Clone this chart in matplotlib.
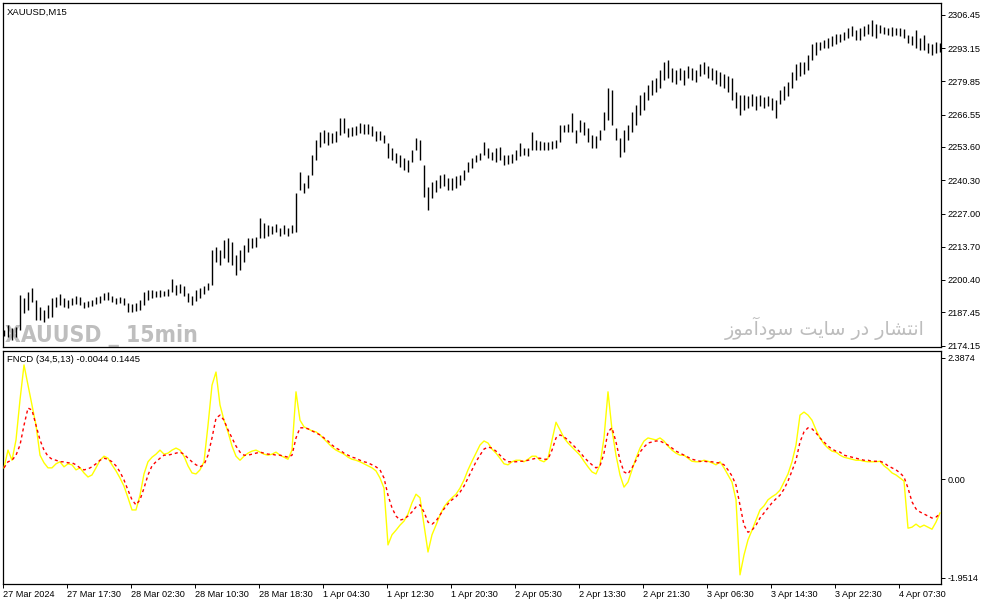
"""XAUUSD M15 chart with the FNCD sub-window, MT4 style."""
import matplotlib
matplotlib.use("Agg")
import matplotlib.pyplot as plt
import numpy as np

matplotlib.rcParams['font.family'] = ['Liberation Sans', 'DejaVu Sans']
matplotlib.rcParams['font.size'] = 6.7

# ── price bars (30-min steps) ────────────────────────────────────────
HIGHS = [
    2180.4, 2182.4, 2181.2, 2181.6, 2194.4, 2193.2, 2195.6, 2197.2, 2192.4, 2189.6,
    2188.4, 2190.4, 2193.2, 2193.6, 2194.8, 2193.2, 2192.4, 2193.2, 2194.0, 2193.6,
    2191.6, 2192.0, 2192.4, 2193.6, 2194.0, 2195.2, 2195.6, 2194.0, 2193.2, 2193.6,
    2193.2, 2191.2, 2190.8, 2191.2, 2192.4, 2195.6, 2196.4, 2196.4, 2196.0, 2196.4,
    2196.0, 2196.8, 2200.8, 2198.4, 2198.8, 2198.0, 2195.2, 2194.0, 2196.4, 2197.2,
    2198.0, 2199.2, 2212.4, 2213.6, 2212.4, 2216.4, 2217.2, 2215.6, 2210.4, 2212.4,
    2214.4, 2217.2, 2217.2, 2217.6, 2225.2, 2223.2, 2222.4, 2222.0, 2222.8, 2221.2,
    2222.4, 2221.2, 2222.4, 2235.2, 2243.6, 2239.2, 2242.4, 2250.4, 2256.4, 2259.6,
    2260.4, 2259.6, 2259.2, 2260.0, 2265.2, 2265.2, 2261.2, 2261.6, 2262.0, 2263.2,
    2262.8, 2262.8, 2262.0, 2260.0, 2260.0, 2258.4, 2255.2, 2253.2, 2251.2, 2250.4,
    2249.2, 2248.4, 2252.4, 2257.2, 2256.4, 2246.4, 2237.6, 2239.6, 2240.4, 2242.4,
    2242.8, 2241.2, 2241.2, 2242.0, 2242.4, 2244.4, 2247.6, 2249.2, 2250.4, 2251.2,
    2255.6, 2253.2, 2251.6, 2253.2, 2253.6, 2250.4, 2250.4, 2250.8, 2252.4, 2255.2,
    2253.2, 2253.2, 2259.6, 2256.4, 2256.0, 2255.6, 2255.6, 2256.0, 2256.4, 2262.4,
    2262.4, 2262.8, 2267.2, 2260.4, 2264.4, 2263.6, 2261.2, 2258.4, 2258.0, 2260.4,
    2267.6, 2277.2, 2276.4, 2261.2, 2257.2, 2260.4, 2262.4, 2267.6, 2270.4, 2274.4,
    2275.6, 2278.4, 2280.4, 2281.2, 2284.4, 2287.6, 2288.4, 2285.2, 2284.4, 2285.2,
    2284.4, 2286.0, 2285.2, 2284.4, 2286.8, 2287.6, 2286.0, 2285.2, 2284.4, 2283.6,
    2282.8, 2282.0, 2281.2, 2275.6, 2274.4, 2274.4, 2274.0, 2274.8, 2274.0, 2274.4,
    2273.6, 2274.0, 2273.2, 2272.4, 2276.4, 2278.0, 2279.6, 2283.6, 2286.8, 2287.6,
    2287.6, 2290.4, 2294.8, 2295.6, 2295.6, 2296.4, 2297.2, 2298.0, 2298.8, 2298.8,
    2299.6, 2301.2, 2302.0, 2300.4, 2301.2, 2302.0, 2302.8, 2304.4, 2302.8, 2302.4,
    2301.6, 2301.2, 2301.6, 2301.2, 2301.2, 2300.8, 2298.4, 2298.0, 2300.4, 2297.2,
    2298.4, 2295.2, 2294.8, 2295.6, 2295.2,
]
LOWS = [
    2178.0, 2177.6, 2176.4, 2177.6, 2180.4, 2187.2, 2188.4, 2191.6, 2184.4, 2184.4,
    2183.6, 2185.2, 2185.6, 2189.6, 2190.4, 2189.6, 2189.2, 2190.4, 2190.8, 2190.4,
    2189.2, 2189.6, 2190.0, 2190.8, 2191.2, 2192.4, 2192.4, 2191.6, 2190.8, 2191.2,
    2190.4, 2187.6, 2187.6, 2188.0, 2188.4, 2190.4, 2192.4, 2193.2, 2193.6, 2193.6,
    2194.0, 2194.0, 2195.6, 2194.4, 2195.2, 2194.0, 2191.6, 2190.4, 2192.0, 2193.2,
    2194.8, 2196.4, 2198.4, 2207.6, 2206.4, 2209.2, 2207.6, 2206.4, 2202.4, 2204.4,
    2207.6, 2211.6, 2213.2, 2213.6, 2217.2, 2217.2, 2218.0, 2218.8, 2219.6, 2218.0,
    2218.8, 2218.0, 2219.2, 2219.6, 2236.4, 2235.2, 2237.2, 2242.4, 2248.4, 2253.6,
    2255.2, 2254.4, 2255.2, 2255.6, 2258.4, 2259.2, 2257.6, 2258.0, 2258.4, 2259.2,
    2258.8, 2258.8, 2258.0, 2256.0, 2256.4, 2255.2, 2249.2, 2248.4, 2247.2, 2245.6,
    2244.4, 2243.6, 2247.6, 2252.4, 2248.4, 2233.6, 2228.4, 2233.2, 2235.6, 2237.2,
    2238.0, 2236.4, 2236.4, 2237.2, 2238.4, 2240.4, 2243.6, 2245.2, 2247.6, 2248.4,
    2250.4, 2249.2, 2248.4, 2247.6, 2248.4, 2246.4, 2246.8, 2247.2, 2248.4, 2250.0,
    2250.4, 2250.0, 2252.4, 2252.4, 2252.4, 2252.4, 2252.4, 2252.8, 2253.2, 2255.6,
    2259.6, 2259.6, 2259.6, 2255.2, 2259.6, 2258.4, 2255.6, 2253.2, 2253.2, 2256.4,
    2260.4, 2264.4, 2262.4, 2256.4, 2249.6, 2251.6, 2256.4, 2259.6, 2262.4, 2266.4,
    2268.4, 2272.4, 2274.4, 2275.6, 2277.2, 2280.4, 2281.2, 2279.6, 2278.8, 2280.4,
    2278.4, 2281.2, 2280.4, 2279.6, 2282.0, 2282.8, 2281.2, 2280.4, 2278.8, 2278.0,
    2277.2, 2275.6, 2272.4, 2269.2, 2266.4, 2268.4, 2269.2, 2270.0, 2268.4, 2270.0,
    2269.2, 2270.0, 2268.4, 2265.2, 2270.8, 2272.4, 2274.0, 2277.2, 2280.4, 2282.0,
    2282.8, 2284.4, 2288.4, 2290.4, 2292.4, 2293.2, 2293.2, 2294.0, 2294.8, 2295.6,
    2296.4, 2297.2, 2298.0, 2296.4, 2296.4, 2298.0, 2298.8, 2298.0, 2297.2, 2299.2,
    2298.8, 2298.4, 2298.0, 2298.4, 2298.0, 2297.2, 2295.2, 2294.4, 2293.2, 2292.4,
    2292.4, 2291.2, 2290.4, 2291.2, 2291.6,
]

# ── FNCD(34,5,13): main line (yellow) and signal (red dots) ─────────
FNCD_MAIN = [
    0.22, 0.57, 0.37, 0.77, 1.56, 2.25, 1.85, 1.46, 1.06, 0.47,
    0.32, 0.22, 0.22, 0.30, 0.34, 0.24, 0.30, 0.28, 0.18, 0.22,
    0.12, 0.04, 0.08, 0.22, 0.37, 0.45, 0.41, 0.28, 0.16, 0.02,
    -0.14, -0.37, -0.61, -0.61, -0.32, 0.10, 0.34, 0.43, 0.49, 0.57,
    0.49, 0.51, 0.57, 0.61, 0.57, 0.45, 0.26, 0.12, 0.10, 0.18,
    0.34, 1.06, 1.85, 2.11, 1.46, 1.16, 0.93, 0.65, 0.45, 0.37,
    0.45, 0.51, 0.55, 0.57, 0.53, 0.49, 0.47, 0.49, 0.53, 0.47,
    0.43, 0.39, 0.57, 1.72, 1.16, 1.03, 0.99, 0.95, 0.93, 0.87,
    0.79, 0.71, 0.63, 0.57, 0.53, 0.49, 0.43, 0.39, 0.37, 0.34,
    0.30, 0.26, 0.22, 0.16, 0.02, -0.18, -1.30, -1.10, -1.01, -0.91,
    -0.83, -0.69, -0.47, -0.30, -0.37, -0.91, -1.44, -1.10, -0.91, -0.71,
    -0.55, -0.45, -0.37, -0.30, -0.18, -0.02, 0.18, 0.35, 0.51, 0.67,
    0.75, 0.71, 0.59, 0.51, 0.41, 0.30, 0.28, 0.34, 0.37, 0.37,
    0.34, 0.39, 0.45, 0.45, 0.37, 0.34, 0.41, 0.77, 1.12, 0.97,
    0.81, 0.71, 0.63, 0.55, 0.47, 0.35, 0.24, 0.14, 0.10, 0.28,
    0.81, 1.72, 0.97, 0.47, 0.08, -0.16, -0.06, 0.18, 0.41, 0.61,
    0.75, 0.81, 0.79, 0.77, 0.81, 0.75, 0.65, 0.57, 0.51, 0.47,
    0.47, 0.41, 0.35, 0.34, 0.34, 0.37, 0.35, 0.32, 0.28, 0.34,
    0.22, 0.08, -0.06, -0.41, -1.89, -1.50, -1.20, -1.01, -0.81, -0.61,
    -0.53, -0.41, -0.35, -0.30, -0.22, -0.06, 0.10, 0.34, 0.67, 1.26,
    1.32, 1.26, 1.16, 0.97, 0.81, 0.69, 0.61, 0.55, 0.53, 0.47,
    0.43, 0.41, 0.39, 0.37, 0.37, 0.35, 0.34, 0.34, 0.34, 0.35,
    0.26, 0.20, 0.12, 0.08, 0.02, -0.04, -0.97, -0.95, -0.89, -0.95,
    -0.91, -0.95, -0.99, -0.85, -0.67,
]
FNCD_SIGNAL = [
    0.22, 0.34, 0.37, 0.47, 0.67, 1.06, 1.40, 1.36, 1.06, 0.77,
    0.57, 0.45, 0.39, 0.37, 0.34, 0.34, 0.32, 0.32, 0.28, 0.22,
    0.18, 0.20, 0.24, 0.30, 0.37, 0.41, 0.39, 0.34, 0.26, 0.14,
    -0.02, -0.22, -0.41, -0.51, -0.41, -0.18, 0.08, 0.26, 0.34, 0.41,
    0.47, 0.47, 0.49, 0.51, 0.53, 0.49, 0.41, 0.34, 0.28, 0.24,
    0.28, 0.47, 0.81, 1.20, 1.26, 1.16, 0.97, 0.81, 0.65, 0.53,
    0.47, 0.47, 0.49, 0.51, 0.53, 0.51, 0.49, 0.49, 0.47, 0.47,
    0.45, 0.43, 0.47, 0.81, 1.01, 1.01, 0.99, 0.95, 0.91, 0.87,
    0.81, 0.75, 0.67, 0.61, 0.57, 0.51, 0.47, 0.43, 0.41, 0.37,
    0.34, 0.32, 0.28, 0.24, 0.18, 0.02, -0.32, -0.57, -0.73, -0.81,
    -0.79, -0.73, -0.65, -0.55, -0.51, -0.65, -0.85, -0.89, -0.83, -0.71,
    -0.59, -0.49, -0.41, -0.35, -0.26, -0.14, 0.02, 0.18, 0.34, 0.47,
    0.59, 0.63, 0.61, 0.55, 0.47, 0.39, 0.34, 0.34, 0.34, 0.35,
    0.35, 0.37, 0.39, 0.41, 0.41, 0.39, 0.39, 0.57, 0.81, 0.87,
    0.83, 0.77, 0.69, 0.61, 0.53, 0.43, 0.35, 0.28, 0.22, 0.26,
    0.51, 0.93, 1.01, 0.73, 0.37, 0.14, 0.10, 0.22, 0.37, 0.53,
    0.63, 0.71, 0.73, 0.75, 0.75, 0.71, 0.67, 0.61, 0.55, 0.51,
    0.47, 0.43, 0.39, 0.37, 0.35, 0.35, 0.34, 0.34, 0.32, 0.32,
    0.28, 0.18, 0.06, -0.12, -0.51, -0.91, -1.05, -1.01, -0.91, -0.77,
    -0.67, -0.57, -0.47, -0.39, -0.32, -0.20, -0.04, 0.16, 0.37, 0.73,
    0.93, 1.01, 0.99, 0.91, 0.81, 0.73, 0.65, 0.59, 0.55, 0.53,
    0.47, 0.45, 0.43, 0.41, 0.39, 0.37, 0.37, 0.35, 0.35, 0.35,
    0.32, 0.26, 0.22, 0.18, 0.12, 0.04, -0.18, -0.45, -0.59, -0.65,
    -0.69, -0.73, -0.77, -0.75, -0.69,
]

PRICE_TICKS = [2306.45, 2293.15, 2279.85, 2266.55, 2253.60, 2240.30,
               2227.00, 2213.70, 2200.40, 2187.45, 2174.15]
FNCD_TICKS = [2.3874, 0.0, -1.9514]
FNCD_TICK_LABELS = ["2.3874", "0.00", "-1.9514"]
TIME_LABELS = ["27 Mar 2024", "27 Mar 17:30", "28 Mar 02:30", "28 Mar 10:30",
               "28 Mar 18:30", "1 Apr 04:30", "1 Apr 12:30", "1 Apr 20:30",
               "2 Apr 05:30", "2 Apr 13:30", "2 Apr 21:30", "3 Apr 06:30",
               "3 Apr 14:30", "3 Apr 22:30", "4 Apr 07:30"]
BARS_PER_LABEL = 16

# Persian watermark in visual (left-to-right) order, presentation forms
WATERMARK_FA = ("\uFEAF\uFEEE\uFEE3\uFE81\uFEA9\uFEEE\uFEB3 "
                "\uFE96\uFEF3\uFE8E\uFEB3 "
                "\uFEAD\uFEA9 "
                "\uFEAD\uFE8E\uFEB8\uFE98\uFEE7\uFE8D")

W, H = 987, 605
fig = plt.figure(figsize=(W / 100, H / 100), dpi=100, facecolor='white')


def px_axes(left, top, right, bottom):
    return fig.add_axes([left / W, 1 - bottom / H, (right - left) / W, (bottom - top) / H])


ax_p = px_axes(3, 3, 941, 347)
ax_i = px_axes(3, 351, 941, 584)

n = len(HIGHS)
idx = np.arange(n)

# ── price pane ──────────────────────────────────────────────────────
ax_p.vlines(idx, LOWS, HIGHS, color='black', linewidth=1.0, antialiased=True, zorder=3)
ax_p.set_ylim(2173.6, 2311.2)
ax_p.text(0.004, 0.972, "XAUUSD,M15", transform=ax_p.transAxes, fontsize=6.8,
          va='center', ha='left', color='black')
ax_p.text(0.002, 0.0145, "XAUUSD _ 15min", transform=ax_p.transAxes,
          family=['DejaVu Sans'], fontstretch='condensed',
          fontsize=16.5, fontweight='bold', color='#bebebe', ha='left', va='baseline', zorder=1)
ax_p.text(0.983, 0.035, WATERMARK_FA, transform=ax_p.transAxes,
          family=['DejaVu Sans'], fontsize=13.8, color='#bdbdbd',
          ha='right', va='baseline', zorder=1)
ax_p.set_yticks(PRICE_TICKS)
ax_p.set_yticklabels([f"{v:.2f}" for v in PRICE_TICKS])
ax_p.set_xticks([])

# ── FNCD pane ───────────────────────────────────────────────────────
ax_i.plot(idx, FNCD_MAIN, color='#ffff00', linewidth=1.0, zorder=3)
ax_i.plot(idx, FNCD_SIGNAL, color='#ff0000', linewidth=1.0,
          linestyle=(0, (2.2, 2.2)), zorder=4)
ax_i.set_ylim(-2.071, 2.525)
ax_i.text(0.004, 0.965, "FNCD (34,5,13) -0.0044 0.1445", transform=ax_i.transAxes,
          fontsize=6.8, va='center', ha='left', color='black')
ax_i.set_yticks(FNCD_TICKS)
ax_i.set_yticklabels(FNCD_TICK_LABELS)
ax_i.set_xticks(np.arange(len(TIME_LABELS)) * BARS_PER_LABEL - 0.25)
ax_i.set_xticklabels(TIME_LABELS, ha='left')

for ax in (ax_p, ax_i):
    ax.set_xlim(-0.25, n - 0.75)
    ax.set_facecolor('white')
    for s in ax.spines.values():
        s.set_linewidth(0.9)
        s.set_color('black')
    ax.yaxis.tick_right()
    ax.tick_params(axis='y', direction='out', length=3, width=0.7, pad=1.5,
                   labelsize=6.6, colors='black')
    ax.tick_params(axis='x', direction='out', length=3, width=0.7, pad=1.5,
                   labelsize=6.6, colors='black')

fig.savefig("out.png", dpi=100, facecolor='white')
